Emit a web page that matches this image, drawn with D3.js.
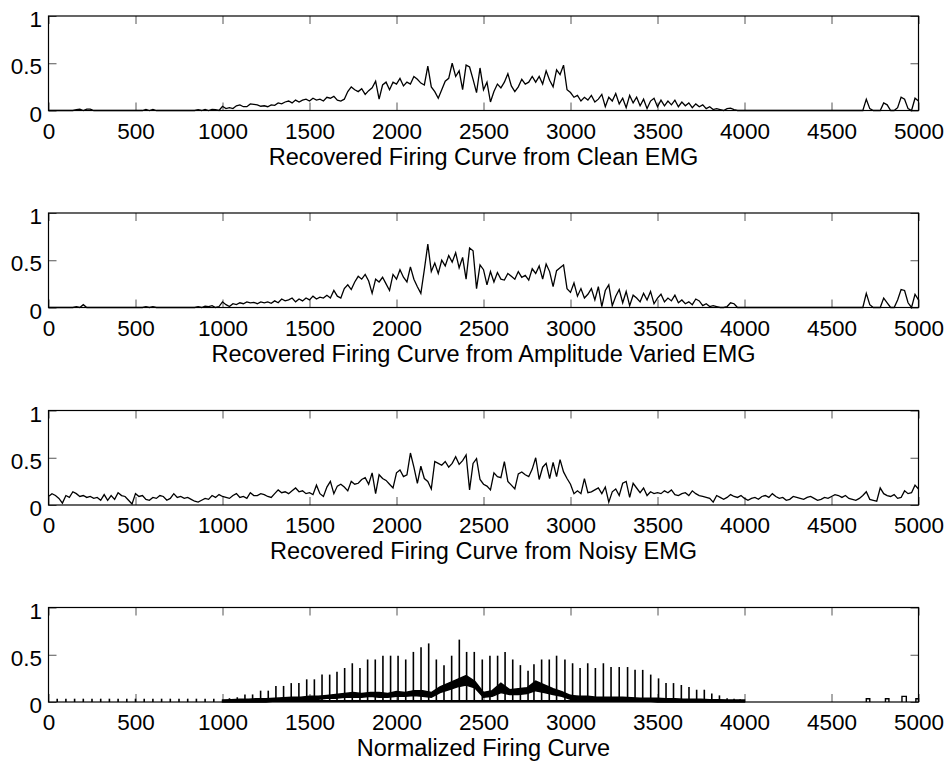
<!DOCTYPE html>
<html>
<head>
<meta charset="utf-8">
<script src="https://cdn.jsdelivr.net/npm/d3@7"></script>
<style>
  body { margin: 0; background: #fff; }
  text { font-family: "Liberation Sans", Arial, Helvetica, sans-serif; }
</style>
</head>
<body>
<svg id="vis"></svg>
<script>
// samples every 20 units, from 0 to 5000
var sampleStep = 20;

var cleanCurve = [
  0,0,0,0,0,0,0,0,0.01,0.015,
  0,0.015,0.015,0,0,0,0,0,0,0,
  0,0,0,0,0,0,0,0,0.012,0,
  0.012,0,0,0,0,0,0,0,0,0,
  0,0,0,0.01,0,0.012,0,0.012,0.01,0,
  0.045,0.02,0.03,0.02,0.05,0.06,0.04,0.04,0.07,0.065,
  0.06,0.045,0.05,0.04,0.06,0.055,0.08,0.07,0.09,0.1,
  0.08,0.11,0.09,0.11,0.12,0.1,0.13,0.11,0.12,0.1,
  0.14,0.13,0.15,0.11,0.1,0.12,0.2,0.25,0.22,0.2,
  0.23,0.17,0.21,0.24,0.31,0.12,0.27,0.3,0.22,0.3,
  0.28,0.34,0.26,0.3,0.28,0.36,0.33,0.29,0.27,0.47,
  0.25,0.2,0.13,0.22,0.31,0.34,0.5,0.36,0.42,0.22,
  0.48,0.46,0.33,0.19,0.45,0.22,0.3,0.09,0.2,0.28,
  0.24,0.3,0.39,0.26,0.2,0.25,0.33,0.28,0.3,0.36,
  0.3,0.36,0.28,0.42,0.32,0.25,0.43,0.38,0.48,0.22,
  0.19,0.14,0.16,0.1,0.14,0.11,0.16,0.09,0.12,0.17,
  0.04,0.14,0.1,0.18,0.07,0.13,0.03,0.16,0.08,0.14,
  0.05,0.12,0.02,0.1,0.13,0.04,0.11,0.05,0.1,0.06,
  0.11,0.04,0.09,0.05,0.08,0.03,0.07,0.04,0.06,0.02,
  0.04,0.01,0.02,0.01,0,0.02,0.025,0.01,0,0,
  0,0,0,0,0,0,0,0,0,0,
  0,0,0,0,0,0,0,0,0,0,
  0,0,0,0,0,0,0,0,0,0,
  0,0,0,0,0,0.12,0.02,0,0,0,
  0.08,0.06,0,0,0.03,0.14,0.12,0.02,0,0.13,
  0.1
];

var ampCurve = [
  0,0,0,0,0,0,0,0,0.01,0,
  0.03,0,0,0,0,0,0,0,0,0,
  0,0,0,0,0,0,0,0,0.01,0,
  0.01,0,0,0,0,0,0,0,0,0,
  0,0,0,0.01,0,0.015,0.01,0.02,0,0.01,
  0.06,0.03,0.01,0.04,0.03,0.05,0.04,0.06,0.05,0.055,
  0.04,0.06,0.05,0.06,0.045,0.07,0.05,0.09,0.07,0.08,
  0.1,0.06,0.09,0.07,0.1,0.08,0.12,0.09,0.11,0.1,
  0.13,0.1,0.18,0.12,0.1,0.2,0.24,0.19,0.27,0.33,
  0.3,0.35,0.28,0.15,0.3,0.27,0.32,0.25,0.18,0.35,
  0.3,0.4,0.32,0.27,0.43,0.3,0.22,0.15,0.4,0.67,
  0.38,0.47,0.36,0.5,0.44,0.55,0.48,0.58,0.42,0.53,
  0.3,0.63,0.6,0.2,0.45,0.4,0.24,0.38,0.27,0.37,
  0.3,0.29,0.36,0.33,0.3,0.38,0.32,0.34,0.29,0.41,
  0.36,0.44,0.3,0.46,0.38,0.22,0.39,0.42,0.45,0.2,
  0.16,0.26,0.12,0.2,0.1,0.14,0.2,0.08,0.22,0.01,
  0.18,0.24,0.02,0.12,0.19,0.05,0.17,0.02,0.13,0.1,
  0.06,0.15,0.08,0.17,0.04,0.1,0.14,0.06,0.1,0.07,
  0.13,0.05,0.08,0.04,0.06,0.03,0.09,0.07,0.02,0.04,
  0.01,0.02,0.01,0,0,0.01,0.05,0.04,0,0,
  0,0,0,0,0,0,0,0,0,0,
  0,0,0,0,0,0,0,0,0,0,
  0,0,0,0,0,0,0,0,0,0,
  0,0,0,0,0,0.15,0.03,0,0,0,
  0.1,0.05,0,0,0.08,0.19,0.18,0.05,0,0.14,
  0.08
];

var noisyCurve = [
  0.09,0.12,0.1,0.07,0.02,0.1,0.08,0.14,0.12,0.09,
  0.1,0.08,0.09,0.07,0.08,0.05,0.11,0.05,0.1,0.06,
  0.13,0.1,0.09,0.05,0.01,0.12,0.09,0.1,0.06,0.05,
  0.08,0.07,0.1,0.09,0.05,0.07,0.12,0.08,0.09,0.07,
  0.08,0.06,0.04,0.03,0.05,0.07,0.06,0.1,0.08,0.11,
  0.09,0.08,0.07,0.1,0.12,0.08,0.09,0.07,0.13,0.1,
  0.1,0.12,0.11,0.09,0.08,0.12,0.16,0.13,0.14,0.12,
  0.15,0.18,0.14,0.15,0.12,0.13,0.11,0.21,0.12,0.09,
  0.19,0.25,0.12,0.2,0.22,0.19,0.15,0.25,0.22,0.23,
  0.27,0.29,0.22,0.34,0.12,0.32,0.28,0.26,0.22,0.18,
  0.34,0.37,0.3,0.32,0.55,0.4,0.23,0.41,0.28,0.25,
  0.17,0.46,0.44,0.42,0.46,0.4,0.44,0.51,0.43,0.47,
  0.53,0.16,0.44,0.49,0.27,0.22,0.2,0.16,0.34,0.3,
  0.29,0.46,0.25,0.21,0.17,0.33,0.35,0.32,0.3,0.38,
  0.5,0.27,0.4,0.44,0.28,0.45,0.3,0.48,0.35,0.28,
  0.22,0.12,0.15,0.12,0.28,0.13,0.14,0.16,0.18,0.12,
  0.19,0.03,0.14,0.17,0.1,0.23,0.25,0.08,0.23,0.18,
  0.13,0.18,0.1,0.14,0.12,0.13,0.12,0.15,0.13,0.16,
  0.11,0.1,0.12,0.13,0.1,0.15,0.12,0.1,0.09,0.08,
  0.07,0.03,0.1,0.08,0.06,0.08,0.11,0.09,0.08,0.1,
  0.07,0.05,0.07,0.08,0.06,0.09,0.1,0.08,0.12,0.09,
  0.07,0.08,0.05,0.06,0.09,0.08,0.07,0.06,0.08,0.09,
  0.07,0.05,0.06,0.08,0.07,0.09,0.11,0.1,0.08,0.1,
  0.07,0.06,0.05,0.07,0.1,0.14,0.06,0.05,0.04,0.18,
  0.12,0.1,0.09,0.11,0.07,0.08,0.15,0.12,0.13,0.21,
  0.17
];

// normalized firing curve: small ticks before 1000
var normTickX = [50,100,150,200,250,300,350,400,450,500,550,600,650,700,750,800,850,900,950];
var normTickH = 0.035;

// tall spikes
var normSpikeX = [1040,1085,1129,1173,1219,1263,1307,1351,1395,1439,
  1484,1528,1572,1616,1658,1702,1746,1790,1834,1878,
  1922,1966,2009,2053,2097,2141,2185,2229,2273,2317,
  2361,2403,2447,2493,2537,2581,2624,2668,2712,2756,
  2790,2834,2878,2920,2968,3012,3055,3099,3143,3189,
  3233,3280,3328,3371,3415,3461,3506,3549,3592,3637,
  3681,3725,3769,3812,3856,3900,3940,3975];
var normSpikeH = [0.04,0.05,0.08,0.08,0.12,0.12,0.17,0.17,0.2,0.2,
  0.24,0.24,0.29,0.29,0.32,0.36,0.41,0.36,0.45,0.45,
  0.49,0.49,0.49,0.45,0.53,0.58,0.62,0.45,0.39,0.49,
  0.66,0.53,0.53,0.45,0.49,0.49,0.53,0.45,0.39,0.33,
  0.4,0.45,0.45,0.49,0.45,0.41,0.36,0.41,0.36,0.41,
  0.37,0.37,0.37,0.34,0.34,0.29,0.25,0.2,0.2,0.18,
  0.16,0.13,0.13,0.09,0.07,0.04,0.035,0.03];

// dense band between 1000 and 4000, every 50 units
var normBandStart = 1000, normBandStep = 50;
var normBandLo = [0,0,0,0,0,0,0.01,0.01,0.02,0.02,
  0.03,0.03,0.04,0.04,0.05,0.05,0.05,0.06,0.05,0.05,
  0.06,0.06,0.07,0.06,0.05,0.1,0.13,0.16,0.18,0.15,
  0.05,0.06,0.1,0.08,0.08,0.09,0.12,0.1,0.08,0.06,
  0.03,0.02,0.02,0.02,0.01,0.01,0.01,0.01,0.01,0.01,
  0,0,0,0,0,0,0,0,0,0,0];
var normBandHi = [0.02,0.025,0.03,0.03,0.035,0.035,0.04,0.045,0.05,0.05,
  0.06,0.06,0.07,0.08,0.09,0.1,0.09,0.1,0.1,0.09,
  0.11,0.1,0.12,0.12,0.1,0.16,0.2,0.24,0.28,0.22,
  0.1,0.12,0.2,0.13,0.14,0.15,0.22,0.18,0.14,0.11,
  0.07,0.06,0.06,0.05,0.05,0.05,0.05,0.045,0.04,0.04,
  0.04,0.035,0.035,0.03,0.03,0.03,0.025,0.025,0.02,0.02,0.02];
var normFloor = 0.02;

// little pulses after 4000
var normBoxX = [4700, 4810, 4905, 4985];
var normBoxW = [20, 20, 25, 15];
var normBoxH = [0.035, 0.035, 0.06, 0.035];

var xTicks = [0,500,1000,1500,2000,2500,3000,3500,4000,4500,5000];
var yTicks = [0,0.5,1];
var titles = [
  "Recovered Firing Curve from Clean EMG",
  "Recovered Firing Curve from Amplitude Varied EMG",
  "Recovered Firing Curve from Noisy EMG",
  "Normalized Firing Curve"
];

(function() {
  var width = 949, height = 764;
  var chart = d3.select("#vis").attr("width", width).attr("height", height);

  var left = 48.5, right = 918.5, plotH = 94.5;
  var tops = [16, 213, 410.5, 607.5];

  var x = d3.scaleLinear().domain([0, 5000]).range([left, right]);

  function makePanel(i) {
    var top = tops[i], bottom = top + plotH;
    var y = d3.scaleLinear().domain([0, 1]).range([bottom, top]);
    var g = chart.append("g");

    var bx = g.append("g").attr("transform", "translate(0," + bottom + ")")
      .call(d3.axisBottom(x).tickValues(xTicks).tickSize(-8).tickSizeOuter(0)
        .tickPadding(12.5).tickFormat(d3.format("d")));
    var tx = g.append("g").attr("transform", "translate(0," + top + ")")
      .call(d3.axisTop(x).tickValues(xTicks).tickSize(-8).tickSizeOuter(0).tickFormat(""));
    var ly = g.append("g").attr("transform", "translate(" + left + ",0)")
      .call(d3.axisLeft(y).tickValues(yTicks).tickSize(-8).tickSizeOuter(0)
        .tickPadding(6.5).tickFormat(d3.format("")));
    var ry = g.append("g").attr("transform", "translate(" + right + ",0)")
      .call(d3.axisRight(y).tickValues(yTicks).tickSize(-8).tickSizeOuter(0).tickFormat(""));

    [bx, tx, ly, ry].forEach(function(a) {
      a.select(".domain").remove();
      a.selectAll(".tick line").attr("stroke", "#555");
      a.selectAll("text").attr("font-size", 22.5).attr("fill", "#000")
        .attr("font-family", '"Liberation Sans", Arial, Helvetica, sans-serif');
    });
    ly.selectAll("text").attr("dy", "0.47em");

    g.append("rect")
      .attr("x", left).attr("y", top)
      .attr("width", right - left).attr("height", plotH)
      .attr("fill", "none").attr("stroke", "#000").attr("stroke-width", 1.2);

    g.append("text")
      .attr("x", (left + right) / 2).attr("y", bottom + 54.4)
      .attr("text-anchor", "middle").attr("font-size", 23.5)
      .text(titles[i]);

    return { g: g, y: y };
  }

  function drawCurve(panel, values) {
    var line = d3.line()
      .x(function(d, i) { return x(i * sampleStep); })
      .y(function(d) { return panel.y(d); });
    panel.g.append("path")
      .datum(values)
      .attr("fill", "none")
      .attr("stroke", "#000")
      .attr("stroke-width", 1.3)
      .attr("stroke-linejoin", "miter")
      .attr("d", line);
  }

  drawCurve(makePanel(0), cleanCurve);
  drawCurve(makePanel(1), ampCurve);
  drawCurve(makePanel(2), noisyCurve);

  // normalized firing curve
  var p4 = makePanel(3), y4 = p4.y;

  var floorArea = d3.area()
    .x(function(d, i) { return x(normBandStart + i * normBandStep); })
    .y0(y4(0))
    .y1(y4(normFloor));
  p4.g.append("path").datum(normBandLo).attr("fill", "#000").attr("d", floorArea);

  var bandArea = d3.area()
    .x(function(d, i) { return x(normBandStart + i * normBandStep); })
    .y0(function(d, i) { return y4(normBandLo[i]); })
    .y1(function(d, i) { return y4(normBandHi[i]); });
  p4.g.append("path").datum(normBandHi).attr("fill", "#000")
    .attr("stroke", "#000").attr("stroke-width", 1.5).attr("d", bandArea);

  p4.g.selectAll(".tickspike")
    .data(normTickX)
    .enter()
    .append("line")
    .attr("x1", function(d) { return x(d); })
    .attr("x2", function(d) { return x(d); })
    .attr("y1", y4(0))
    .attr("y2", y4(normTickH))
    .attr("stroke", "#000")
    .attr("stroke-width", 1.6);

  p4.g.selectAll(".spike")
    .data(normSpikeX)
    .enter()
    .append("line")
    .attr("x1", function(d) { return x(d); })
    .attr("x2", function(d) { return x(d); })
    .attr("y1", y4(0))
    .attr("y2", function(d, i) { return y4(normSpikeH[i]); })
    .attr("stroke", "#000")
    .attr("stroke-width", 1.6);

  var boxLine = d3.line();
  p4.g.selectAll(".box")
    .data(normBoxX)
    .enter()
    .append("path")
    .attr("fill", "none")
    .attr("stroke", "#000")
    .attr("stroke-width", 1.4)
    .attr("d", function(d, i) {
      var x0 = x(d), x1 = x(Math.min(5000, d + normBoxW[i]));
      return boxLine([[x0, y4(0)], [x0, y4(normBoxH[i])], [x1, y4(normBoxH[i])], [x1, y4(0)]]);
    });

}());
</script>
</body>
</html>
